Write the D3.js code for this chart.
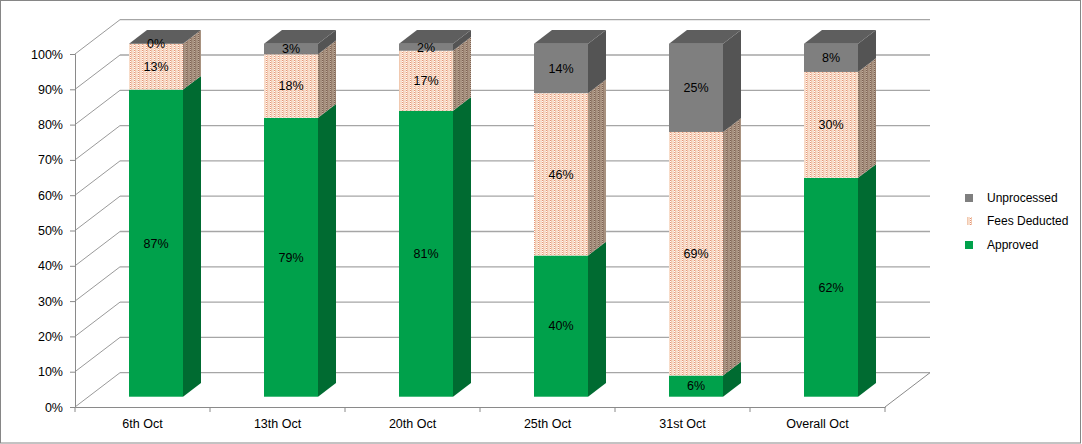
<!DOCTYPE html>
<html><head><meta charset="utf-8">
<script src="https://cdn.jsdelivr.net/npm/d3@7"></script>
<style>body{margin:0;background:#fff}svg{display:block}text{font-family:"Liberation Sans",Arial,sans-serif}</style>
</head><body><svg id="c" width="1082" height="444"></svg>
<script>
const categories = ["6th Oct","13th Oct","20th Oct","25th Oct","31st Oct","Overall Oct"];
const seriesNames = ["Approved","Fees Deducted","Unprocessed"];
const approved = [87,79,81,40,6,62];
const feesDeducted = [13,18,17,46,69,30];
const unprocessed = [0,3,2,14,25,8];
const yTicks = [0,10,20,30,40,50,60,70,80,90,100];

const svg = d3.select("#c");
const W=1082,H=444;
const pLeft=75,pRight=885,pBottom=407,pTop=54;
const DX=45, DY=-34.3; // full depth offset
const x = d3.scaleBand().domain(categories).range([pLeft,pRight]).paddingInner(0).paddingOuter(0);
const y = d3.scaleLinear().domain([0,100]).range([pBottom,pTop]);

// patterns
const defs = svg.append("defs");
function pat(id,bg,light,dot,mid){
  const p=defs.append("pattern").attr("id",id).attr("patternUnits","userSpaceOnUse").attr("width",4).attr("height",2);
  p.append("rect").attr("width",4).attr("height",2).attr("fill",bg);
  p.append("rect").attr("x",2).attr("y",0).attr("width",1).attr("height",1).attr("fill",dot);
  p.append("rect").attr("x",2).attr("y",1).attr("width",1).attr("height",1).attr("fill",light);
  p.append("rect").attr("x",3).attr("y",0).attr("width",1).attr("height",2).attr("fill",mid);
}
pat("feesFront","#f8dcc9","#ffffff","#e59477","#f1c9b0");
pat("feesSide","#a89280","#c0ae9f","#7e6252","#977f6e");

// border
svg.append("rect").attr("x",0.5).attr("y",0.5).attr("width",W-2).attr("height",H-1.5).attr("fill","none").attr("stroke","#868686").attr("stroke-width",1);

const grid = svg.append("g").attr("stroke","#a6a6a6").attr("stroke-width",1.3).attr("fill","none");
yTicks.forEach(t=>{
  const yf=y(t);
  grid.append("line").attr("x1",pLeft+DX).attr("x2",pRight+DX).attr("y1",yf+DY).attr("y2",yf+DY);
  grid.append("line").attr("x1",pLeft).attr("x2",pLeft+DX).attr("y1",yf).attr("y2",yf+DY).attr("stroke","#9a9a9a").attr("stroke-width",1);
});
grid.append("line").attr("x1",pRight).attr("y1",pBottom).attr("x2",pRight+DX).attr("y2",pBottom+DY).attr("stroke","#8a8a8a").attr("stroke-width",1);

// front axes
const yAxis = d3.axisLeft(y).tickValues(yTicks).tickFormat(d=>d+"%").tickSize(5).tickPadding(7);
const ga = svg.append("g").attr("transform",`translate(${pLeft},0)`).call(yAxis);
ga.select(".domain").attr("stroke","#8a8a8a");
ga.selectAll(".tick line").attr("stroke","#8a8a8a");
ga.selectAll("text").attr("font-size",12.5).attr("fill","#000");

const xAxis = d3.axisBottom(x).tickSize(0).tickPadding(12);
const gx = svg.append("g").attr("transform",`translate(0,${pBottom})`).call(xAxis);
gx.select(".domain").attr("stroke","#8a8a8a");
gx.selectAll("text").attr("font-size",12.5).attr("fill","#000");
const bounds = categories.map(c=>x(c)).concat([pRight]);
svg.append("g").selectAll("line").data(bounds).join("line")
  .attr("x1",d=>d).attr("x2",d=>d).attr("y1",pBottom).attr("y2",pBottom+5).attr("stroke","#8a8a8a");

// bars
const series = [
  {name:"Approved",vals:approved,front:"#00a14b",side:"#006b31",topc:"#00843d"},
  {name:"Fees Deducted",vals:feesDeducted,front:"url(#feesFront)",side:"url(#feesSide)",topc:"#c9b1a0"},
  {name:"Unprocessed",vals:unprocessed,front:"#7f7f7f",side:"#545454",topc:"#5e5e5e"}
];
const d0=0.3, dd=0.4, bw=x.bandwidth()*0.4;
const bars = svg.append("g");
const labels = svg.append("g");
categories.forEach((c,i)=>{
  const fx = x(c)+x.bandwidth()/2 - bw/2 + d0*DX;
  const oy = d0*DY;
  let cum=0;
  const sdx=dd*DX, sdy=dd*DY;
  series.forEach((s,si)=>{
    const v=s.vals[i];
    const y1=y(cum)+oy, y2=y(cum+v)+oy;
    bars.append("path").attr("d",`M${fx+bw},${y1}L${fx+bw+sdx},${y1+sdy}L${fx+bw+sdx},${y2+sdy}L${fx+bw},${y2}Z`).attr("fill",s.side);
    bars.append("rect").attr("x",fx).attr("y",y2).attr("width",bw).attr("height",Math.max(0,y1-y2)).attr("fill",s.front);
    labels.append("text").attr("x",fx+bw/2).attr("y",(y1+y2)/2).attr("dy","0.35em").attr("text-anchor","middle").attr("font-size",12.5).attr("fill","#000").text(v+"%");
    cum+=v;
    if(si===series.length-1){
      bars.append("path").attr("d",`M${fx},${y2}L${fx+sdx},${y2+sdy}L${fx+bw+sdx},${y2+sdy}L${fx+bw},${y2}Z`).attr("fill",s.topc);
    }
  });
});

// legend
const leg = svg.append("g");
const legItems = [series[2],series[1],series[0]];
const legY=[198,221,245];
legItems.forEach((s,k)=>{
  const sw = k===1 ? 5 : 8;
  leg.append("rect").attr("x",k===1?967:965).attr("y",legY[k]-4).attr("width",sw).attr("height",8).attr("fill",s.front);
  leg.append("text").attr("x",987).attr("y",legY[k]).attr("dy","0.35em").attr("font-size",12).attr("fill","#000").text(s.name);
});
</script></body></html>
